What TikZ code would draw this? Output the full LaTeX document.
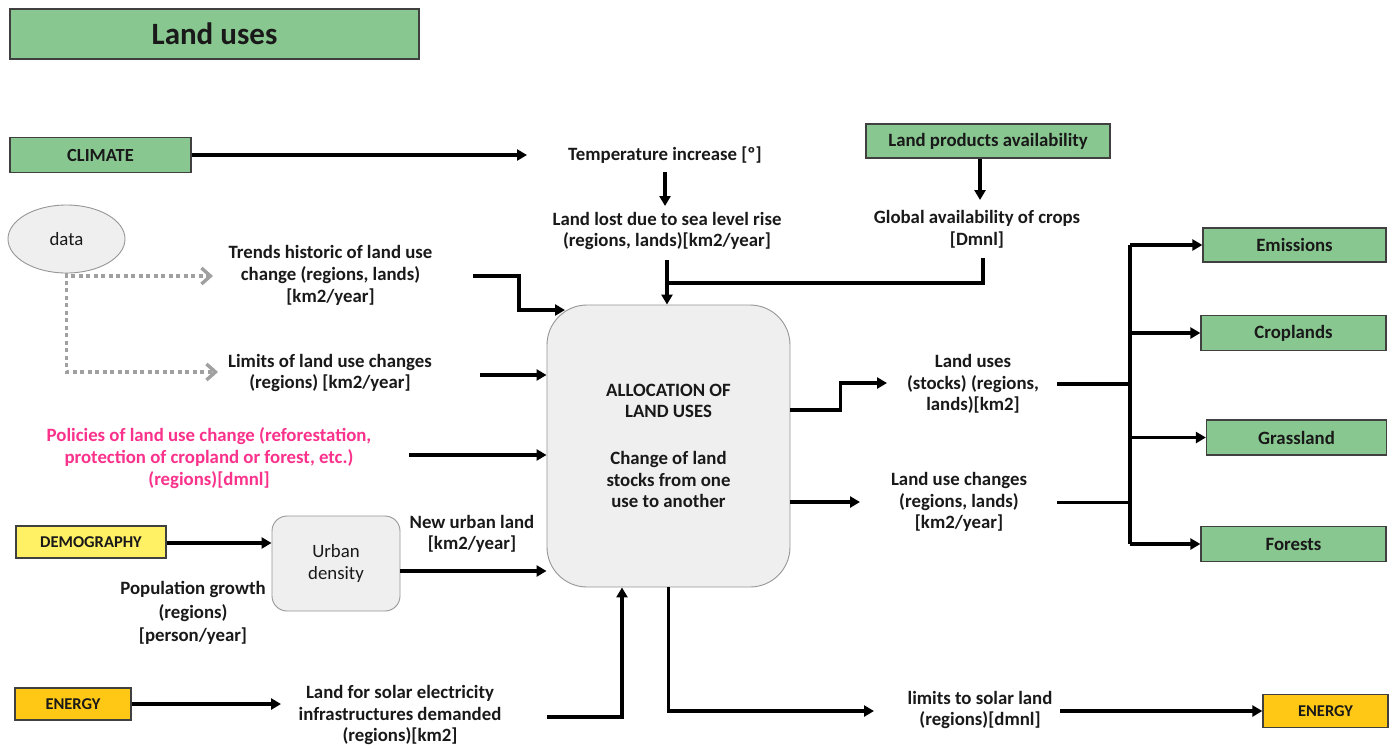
\documentclass[tikz,border=0pt]{standalone}
\usepackage{fontspec}
\setmainfont{Carlito}
\usetikzlibrary{arrows.meta,shapes.geometric}
\definecolor{boxgreen}{RGB}{137,199,144}
\definecolor{demoyellow}{RGB}{255,240,100}
\definecolor{energyorange}{RGB}{255,200,20}
\definecolor{panelgray}{RGB}{239,239,239}
\definecolor{edgegray}{RGB}{150,150,150}
\definecolor{dotgray}{RGB}{160,160,160}
\definecolor{policypink}{RGB}{250,50,140}
\definecolor{ink}{RGB}{25,25,25}
\tikzset{
  lbl/.style={font=\fontsize{18.8}{21.7}\selectfont\bfseries, align=center, text=ink, inner sep=0pt},
  greenbox/.style={draw=black!75, line width=1.3pt, fill=boxgreen, inner sep=0pt, text=ink,
                   font=\fontsize{18.8}{21}\selectfont\bfseries},
  sectorbox/.style={draw=black!75, line width=1.3pt, inner sep=0pt, text=ink,
                   font=\fontsize{16.5}{19}\selectfont\bfseries},
  panel/.style={draw=edgegray, line width=0.9pt, fill=panelgray, inner sep=0pt, align=center, text=ink},
  arr/.style={line width=3.2pt, draw=black, -{Triangle[length=10pt,width=11pt]}},
  wire/.style={line width=3.2pt, draw=black},
  dotarr/.style={line width=3.4pt, draw=dotgray, dash pattern=on 4pt off 3.5pt,
                 -{Straight Barb[length=9pt,width=16pt,line width=3.4pt]}}
}
\begin{document}
\begin{tikzpicture}[x=1pt,y=-1pt]
\useasboundingbox (0,0) rectangle (1394,748);
\fill[white] (0,0) rectangle (1394,748);

% ---- boxes ----
\node[greenbox, minimum width=409, minimum height=50, font=\fontsize{31}{33}\selectfont\bfseries] (title) at (214.5,34) {Land uses};
\node[greenbox, minimum width=181, minimum height=35, font=\fontsize{18.5}{20}\selectfont\bfseries] (climate) at (100.5,155) {CLIMATE};
\node[greenbox, minimum width=244, minimum height=34] (prod) at (988,141) {Land products availability};
\node[greenbox, minimum width=183, minimum height=34] (emis) at (1294.5,245) {Emissions};
\node[greenbox, minimum width=185, minimum height=35] (crop) at (1293.5,333) {Croplands};
\node[greenbox, minimum width=180, minimum height=35] (grass) at (1296.5,437.5) {Grassland};
\node[greenbox, minimum width=185, minimum height=35] (forest) at (1293.5,544) {Forests};
\node[sectorbox, fill=demoyellow, minimum width=150, minimum height=32] (demog) at (91,542) {DEMOGRAPHY\hspace{24pt}};
\node[sectorbox, fill=energyorange, minimum width=116, minimum height=32] (energyL) at (73,704) {ENERGY};
\node[sectorbox, fill=energyorange, minimum width=125, minimum height=33] (energyR) at (1325.5,711) {ENERGY};

\node[panel, rounded corners=40, minimum width=243, minimum height=282,
      font=\fontsize{18.8}{21.5}\selectfont\bfseries] (alloc) at (668.5,446)
  {ALLOCATION OF\\LAND USES\\[25.5pt]Change of land\\stocks from one\\use to another};
\node[panel, rounded corners=15, minimum width=128, minimum height=95,
      font=\fontsize{18.8}{22.5}\selectfont] (urban) at (336,563.5) {Urban\\density};
\node[panel, ellipse, minimum width=117, minimum height=68,
      font=\fontsize{18.8}{21}\selectfont] (data) at (66.5,239) {data};

% ---- variable labels ----
\node[lbl] (temp) at (665,155) {Temperature increase [º]};
\node[lbl] (sea) at (667,231) {Land lost due to sea level rise\\(regions, lands)[km2/year]};
\node[lbl] (glob) at (977,229.5) {Global availability of crops\\{}[Dmnl]};
\node[lbl] (trends) at (330.5,275.5) {Trends historic of land use\\change (regions, lands)\\{}[km2/year]};
\node[lbl] (limits) at (330,373) {Limits of land use changes\\(regions) [km2/year]};
\node[lbl, text=policypink] (policy) at (209,458) {Policies of land use change (reforestation,\\protection of cropland or forest, etc.)\\(regions)[dmnl]};
\node[lbl, font=\fontsize{18.8}{23.2}\selectfont\bfseries] (pop) at (193,613) {Population growth\\(regions)\\{}[person/year]};
\node[lbl] (newurban) at (472,534) {New urban land\\{}[km2/year]};
\node[lbl] (solar) at (400,715) {Land for solar electricity\\infrastructures demanded\\(regions)[km2]};
\node[lbl] (landuses) at (973,384) {Land uses\\(stocks) (regions,\\lands)[km2]};
\node[lbl] (luc) at (959,502) {Land use changes\\(regions, lands)\\{}[km2/year]};
\node[lbl] (limsol) at (980,710) {limits to solar land\\(regions)[dmnl]};

% ---- connector end points ----
\coordinate (tempIn) at (527,155);
\coordinate (tempOut) at (665,172);
\coordinate (seaIn) at (665,206);
\coordinate (seaOut) at (667,260);
\coordinate (globIn) at (980,200);
\coordinate (globOut) at (983,258);
\coordinate (trendsIn) at (213,276);
\coordinate (limitsIn) at (218,372);
\coordinate (trendsOut) at (473,276);
\coordinate (trendsEnd) at (565,310);
\coordinate (limitsOut) at (480,375);
\coordinate (policyOut) at (409,455);
\coordinate (solarIn) at (281,704);
\coordinate (solarOut) at (547,717);
\coordinate (limsolIn) at (874,711);
\coordinate (limsolOut) at (1060,711);
\coordinate (luIn) at (887,383);
\coordinate (luOut) at (1057,384);
\coordinate (lucIn) at (860,502);
\coordinate (lucOut) at (1057,502.5);
\coordinate (bus) at (1130,400);

% ---- connectors ----
\draw[arr] (climate.east) -- (climate.east -| tempIn);
\draw[arr] (tempOut) -- (seaIn);
\draw[arr] (globIn |- prod.south) -- (globIn);
\draw[arr] (seaOut) -- (seaOut |- alloc.north);
\draw[wire] (globOut) |- (seaOut |- 0,283);
\draw[dotarr] (data.south) |- (trendsIn);
\draw[dotarr] (data.south) |- (limitsIn);
\draw[arr] (trendsOut) -- ++(46,0) |- (trendsEnd);
\draw[arr] (limitsOut) -- (limitsOut -| alloc.west);
\draw[arr] (policyOut) -- (policyOut -| alloc.west);
\draw[arr] ([yshift=-1pt]demog.east) -- ([yshift=-1pt]demog.east -| urban.west);
\draw[arr] ([yshift=-7.5pt]urban.east) -- ([yshift=-7.5pt]urban.east -| alloc.west);
\draw[arr] (energyL.east) -- (energyL.east -| solarIn);
\draw[arr] (solarOut) -| ([xshift=-46.5pt]alloc.south);
\draw[arr] (alloc.south) |- (limsolIn);
\draw[arr] (limsolOut) -- (limsolOut -| energyR.west);
\draw[arr] ([yshift=36pt]alloc.east) -- ++(50,0) |- (luIn);
\draw[arr] ([yshift=-56pt]alloc.east) -- (lucIn);
\draw[wire] (luOut) -- (luOut -| bus);
\draw[wire] (lucOut) -- (lucOut -| bus);
\draw[wire] (emis.west -| bus) -- (forest.west -| bus);
\draw[arr] (emis.west -| bus) -- (emis.west);
\draw[arr] (crop.west -| bus) -- (crop.west);
\draw[arr] (grass.west -| bus) -- (grass.west);
\draw[arr] (forest.west -| bus) -- (forest.west);
\end{tikzpicture}
\end{document}
